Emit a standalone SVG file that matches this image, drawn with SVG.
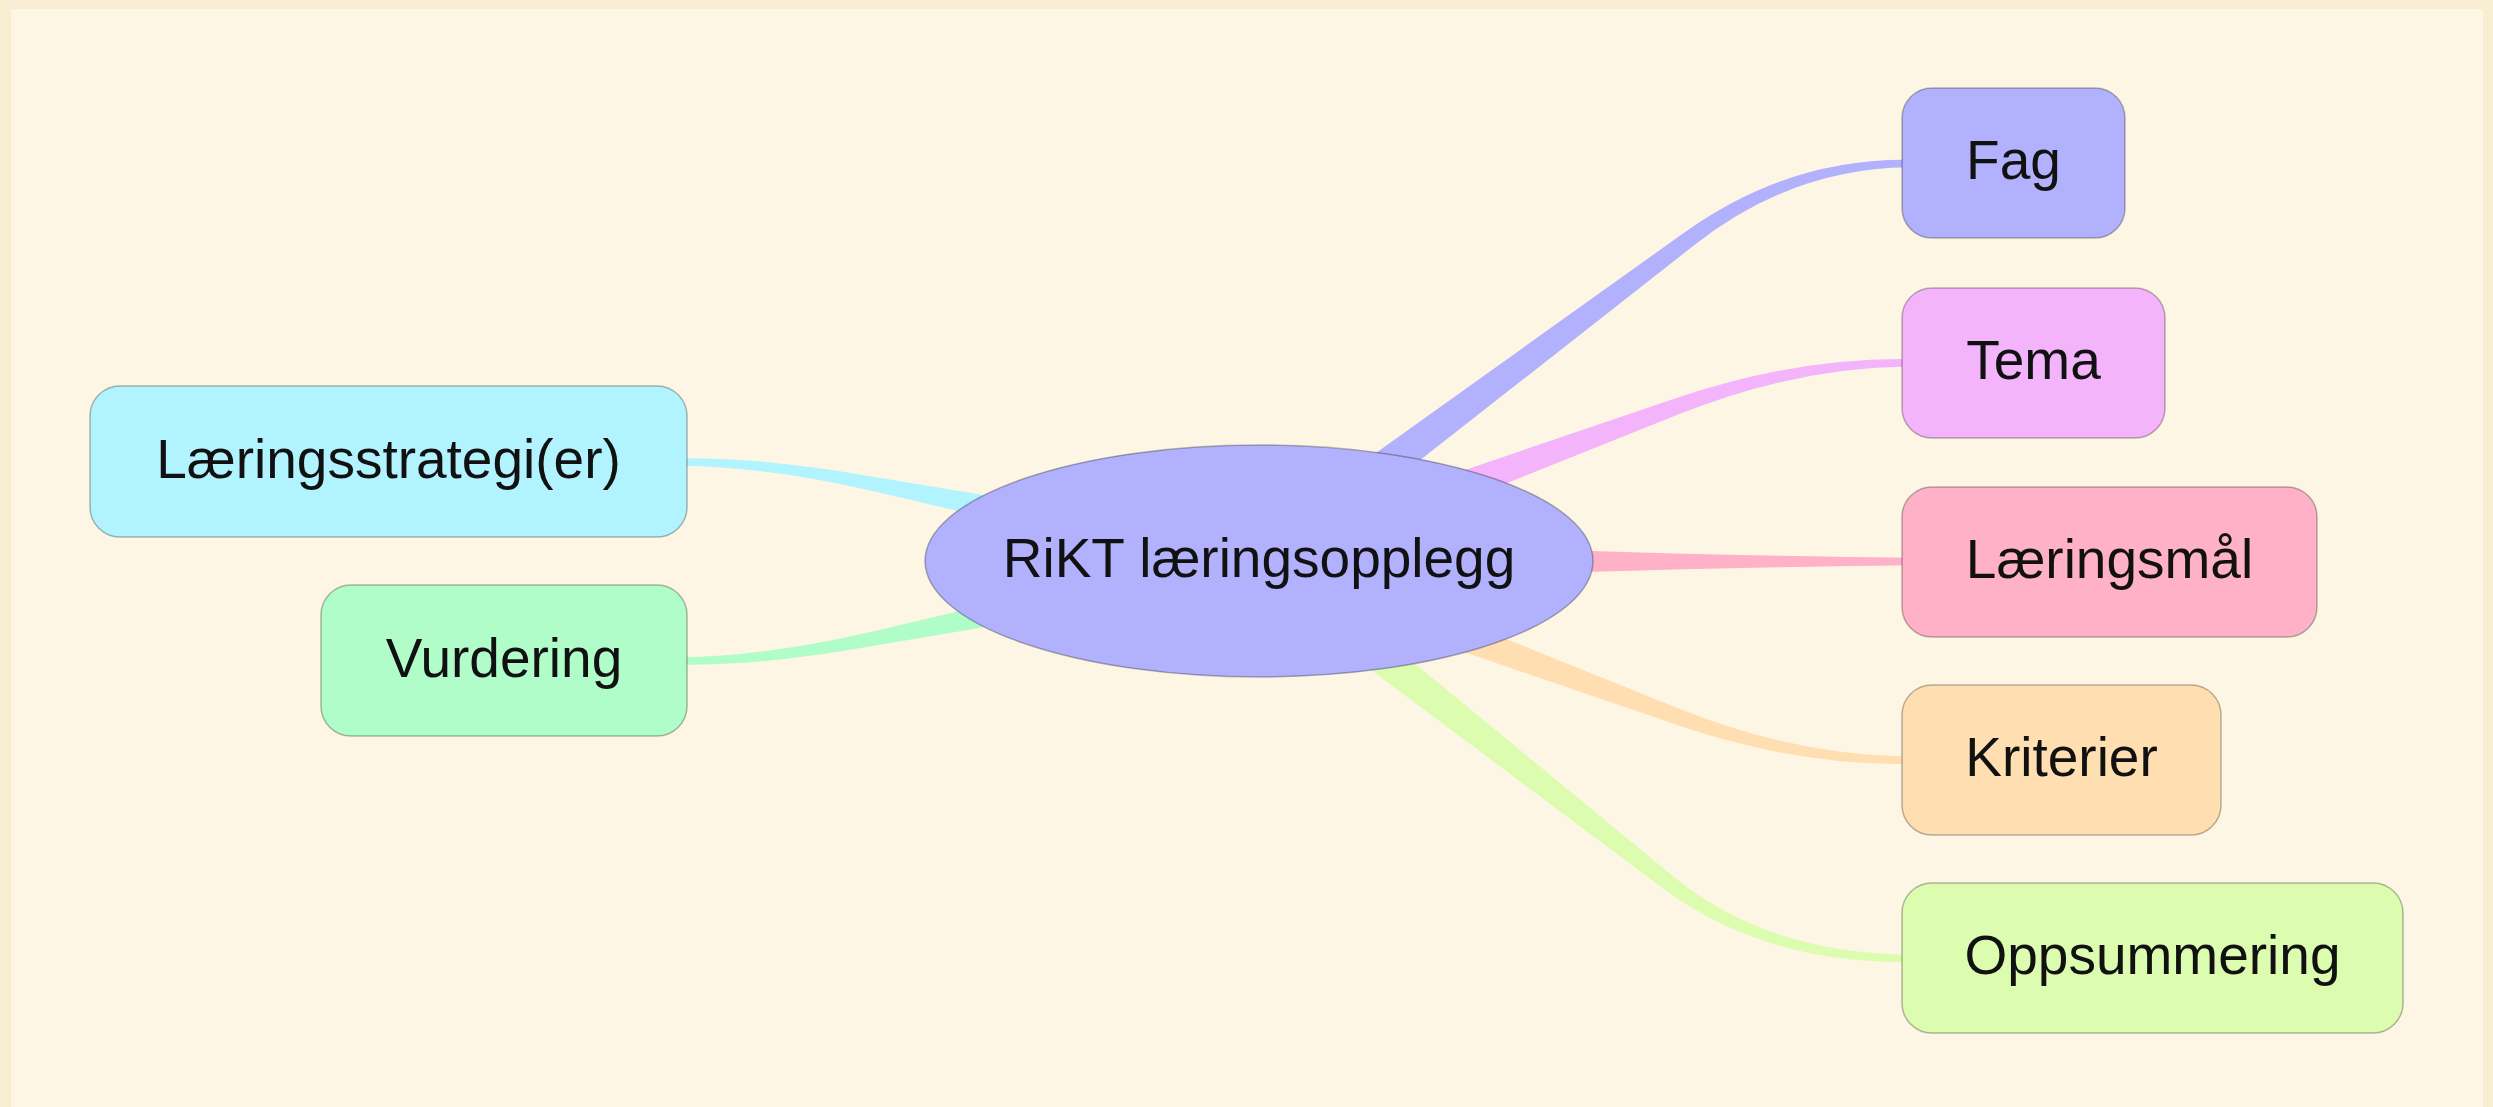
<svg xmlns="http://www.w3.org/2000/svg" width="2493" height="1107" viewBox="0 0 2493 1107">
<style>
.node{stroke:#000;stroke-opacity:0.28;stroke-width:1.5}
.lbl{font-family:"Liberation Sans",Arial,sans-serif;font-size:55px;fill:#111;text-anchor:middle}
</style>
<rect x="0" y="0" width="2493" height="1107" fill="#f7eed2"/>
<rect x="11" y="9" width="2472" height="1098" fill="#fdf6e4"/>
<g id="connectors">
<path d="M1271,577 L1694.7,244.8 Q1791.7,168.5 1908,167.25 L1908,159.75 Q1788.3,158.5 1685.1,232 L1247,545 Z" fill="#b1b1fd"/>
<path d="M1265.9,579.8 L1680.6,413.6 Q1795.9,367.7 1908,366.45 L1908,358.95 Q1794.1,357.7 1675,398.6 L1252.1,542.2 Z" fill="#f3b4fc"/>
<path d="M1259,581 L1675,569.5 Q1800,566.5 1908,565.25 L1908,557.75 Q1800,556.5 1675,553.5 L1259,541 Z" fill="#ffb1c8"/>
<path d="M1252,579.7 L1675,724.2 Q1794.1,765.3 1908,764.05 L1908,756.55 Q1795.9,755.3 1680.6,709.2 L1266,542.3 Z" fill="#ffdfb1"/>
<path d="M1246.6,576.7 L1661.8,887.6 Q1763.3,963.5 1908,962.25 L1908,954.75 Q1766.7,953.5 1671.6,875 L1271.4,545.3 Z" fill="#dcfdb0"/>
<path d="M1262.9,541.4 L873.3,476.7 Q764.45,457.5 681,458.25 L681,465.75 Q763.55,466.5 870.5,490.5 L1255.1,580.6 Z" fill="#b1f4ff"/>
<path d="M1255.1,541.4 L868.4,632.4 Q761.55,656.5 681,657.25 L681,664.75 Q762.45,665.5 871.2,646.2 L1262.9,580.6 Z" fill="#b1fdc9"/>
</g>
<g id="center">
<ellipse class="node" cx="1259" cy="561" rx="334" ry="116" fill="#b1b1fd"/>
<text class="lbl" x="1259" y="577">RiKT læringsopplegg</text>
</g>
<g id="fag">
<rect class="node" x="1902" y="88" width="223" height="150" rx="30" fill="#b1b1fd"/>
<text class="lbl" x="2013.5" y="179">Fag</text>
</g>
<g id="tema">
<rect class="node" x="1902" y="288" width="263" height="150" rx="30" fill="#f3b4fc"/>
<text class="lbl" x="2033.5" y="379">Tema</text>
</g>
<g id="laeringsmal">
<rect class="node" x="1902" y="487" width="415" height="150" rx="30" fill="#ffb1c8"/>
<text class="lbl" x="2109.5" y="578">Læringsmål</text>
</g>
<g id="kriterier">
<rect class="node" x="1902" y="685" width="319" height="150" rx="30" fill="#ffdfb1"/>
<text class="lbl" x="2061.5" y="776">Kriterier</text>
</g>
<g id="oppsummering">
<rect class="node" x="1902" y="883" width="501" height="150" rx="30" fill="#dcfdb0"/>
<text class="lbl" x="2152.5" y="974">Oppsummering</text>
</g>
<g id="laeringsstrategi">
<rect class="node" x="90" y="386" width="597" height="151" rx="30" fill="#b1f4ff"/>
<text class="lbl" x="388.5" y="477.5">Læringsstrategi(er)</text>
</g>
<g id="vurdering">
<rect class="node" x="321" y="585" width="366" height="151" rx="30" fill="#b1fdc9"/>
<text class="lbl" x="504" y="676.5">Vurdering</text>
</g>
</svg>
